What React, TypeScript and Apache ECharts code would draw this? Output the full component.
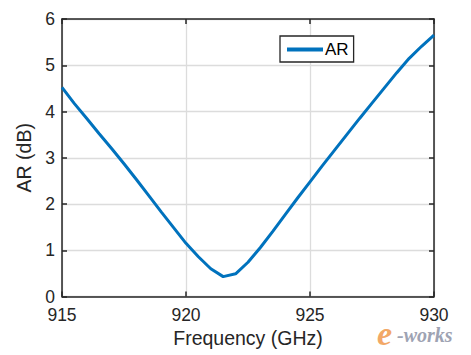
import React, { useEffect, useRef } from "react";
import * as echarts from "echarts";

const frequencies = [
  915, 915.5, 916, 916.5, 917, 917.5, 918, 918.5, 919, 919.5, 920, 920.5, 921,
  921.5, 922, 922.5, 923, 923.5, 924, 924.5, 925, 925.5, 926, 926.5, 927,
  927.5, 928, 928.5, 929, 929.5, 930,
];
const arValues = [
  4.52, 4.17, 3.85, 3.52, 3.2, 2.87, 2.53, 2.18, 1.83, 1.49, 1.15, 0.86, 0.6,
  0.43, 0.49, 0.74, 1.06, 1.41, 1.77, 2.13, 2.48, 2.83, 3.17, 3.51, 3.85, 4.18,
  4.51, 4.84, 5.15, 5.41, 5.65,
];
const xTicks = [915, 920, 925, 930];
const yTicks = [0, 1, 2, 3, 4, 5, 6];

const FONT = "Liberation Sans, Arial, sans-serif";
const AXIS_COLOR = "#262626";
const GRID_COLOR = "#dcdcdc";

export default function App() {
  const ref = useRef<HTMLDivElement>(null);
  useEffect(() => {
    document.body.style.margin = "0";
    if (!ref.current) return;
    const chart = echarts.init(ref.current, null, { renderer: "svg" });
    const data = frequencies.map((f, i) => [f, arValues[i]]);
    const commonLine = { show: true, onZero: false, lineStyle: { color: AXIS_COLOR, width: 1.5 } };
    const tick = { show: true, inside: true, length: 5, lineStyle: { color: AXIS_COLOR, width: 1.5 } };
    chart.setOption({
      animation: false,
      backgroundColor: "#ffffff",
      textStyle: { fontFamily: FONT },
      grid: { left: 62, right: 37, top: 19, bottom: 58.5, containLabel: false },
      legend: {
        show: true,
        left: 280,
        top: 36,
        orient: "horizontal",
        backgroundColor: "#ffffff",
        borderColor: AXIS_COLOR,
        borderWidth: 1.3,
        borderRadius: 0,
        padding: [5, 5, 4, 7],
        itemWidth: 36,
        itemHeight: 4,
        itemGap: 4,
        icon: "rect",
        textStyle: { fontFamily: FONT, fontSize: 17, color: "#000000", padding: [0, 0, 0, -3] },
        data: [{ name: "AR", icon: "rect" }],
      },
      xAxis: [
        {
          type: "value",
          min: 915,
          max: 930,
          interval: 5,
          position: "bottom",
          name: "Frequency (GHz)",
          nameLocation: "middle",
          nameGap: 31,
          nameTextStyle: { fontFamily: FONT, fontSize: 19.5, color: AXIS_COLOR },
          axisLine: commonLine,
          axisTick: tick,
          axisLabel: {
            fontFamily: FONT,
            fontSize: 17.5,
            color: AXIS_COLOR,
            margin: 9,
            formatter: (v: number) => (xTicks.includes(v) ? String(v) : ""),
          },
          splitLine: { show: true, lineStyle: { color: GRID_COLOR, width: 1.3 } },
        },
        {
          type: "value",
          min: 915,
          max: 930,
          interval: 5,
          position: "top",
          axisLine: commonLine,
          axisTick: tick,
          axisLabel: { show: false },
          splitLine: { show: false },
        },
      ],
      yAxis: [
        {
          type: "value",
          min: 0,
          max: 6,
          interval: 1,
          position: "left",
          name: "AR (dB)",
          nameLocation: "middle",
          nameGap: 15,
          nameTextStyle: { fontFamily: FONT, fontSize: 19.5, color: AXIS_COLOR },
          axisLine: commonLine,
          axisTick: tick,
          axisLabel: {
            fontFamily: FONT,
            fontSize: 17.5,
            color: AXIS_COLOR,
            margin: 7,
            formatter: (v: number) => (yTicks.includes(v) ? String(v) : ""),
          },
          splitLine: { show: true, lineStyle: { color: GRID_COLOR, width: 1.3 } },
        },
        {
          type: "value",
          min: 0,
          max: 6,
          interval: 1,
          position: "right",
          axisLine: commonLine,
          axisTick: tick,
          axisLabel: { show: false },
          splitLine: { show: false },
        },
      ],
      series: [
        {
          name: "AR",
          type: "line",
          data,
          showSymbol: false,
          symbol: "none",
          lineStyle: { color: "#0072BD", width: 3 },
          itemStyle: { color: "#0072BD" },
          z: 3,
        },
      ],
      graphic: [
        {
          type: "text",
          left: 377,
          top: 316,
          style: {
            text: "e",
            font: "italic bold 34px 'Liberation Serif', serif",
            fill: "#f2a867",
          },
        },
        {
          type: "text",
          left: 397,
          top: 325,
          style: {
            text: "-works",
            font: "italic bold 20px 'Liberation Serif', serif",
            fill: "#9ea3b3",
          },
        },
      ],
    });
    return () => chart.dispose();
  }, []);
  return <div ref={ref} style={{ width: 471, height: 355 }} />;
}
